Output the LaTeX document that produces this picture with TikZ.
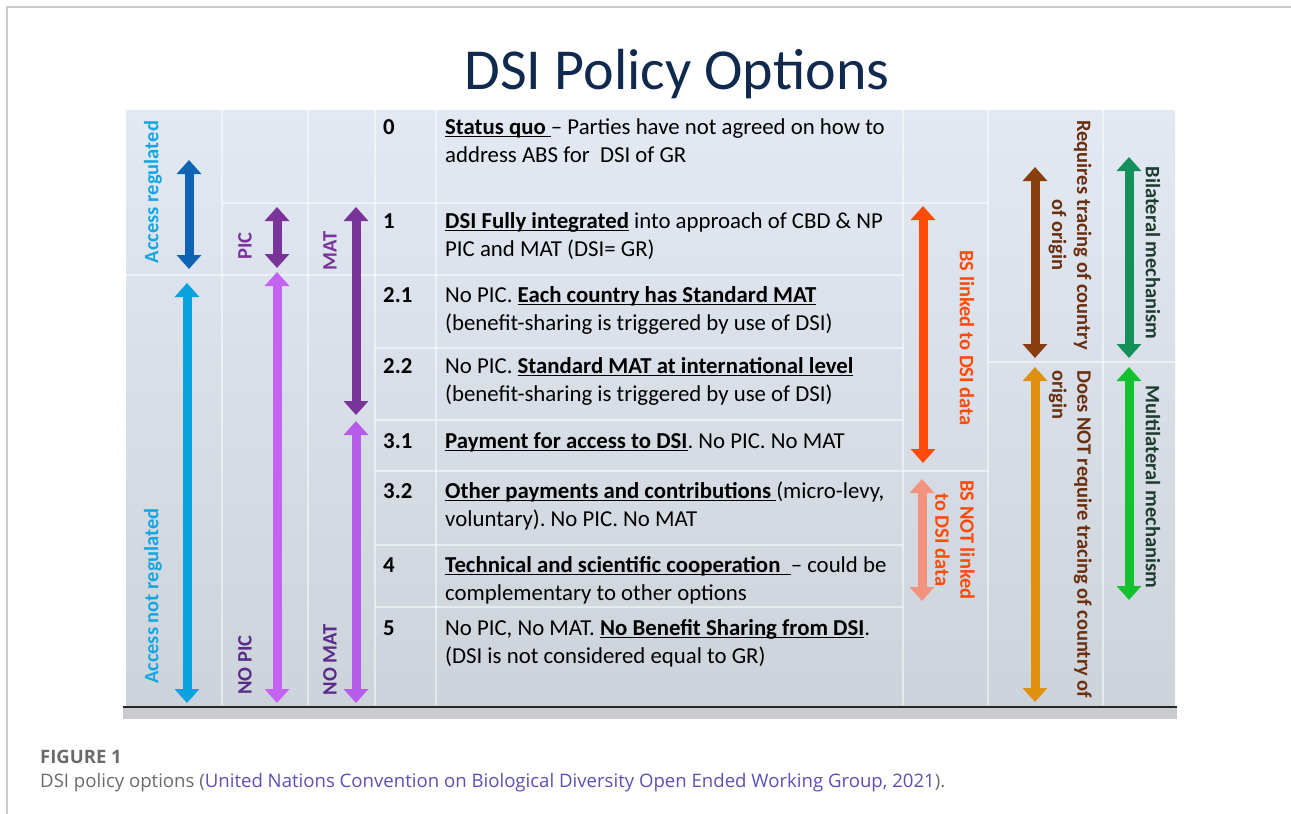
\documentclass[tikz,border=0pt]{standalone}
\usepackage{fontspec}
\setmainfont{Carlito}
\newfontfamily\capfont{Open Sans}
\usetikzlibrary{arrows.meta}
\frenchspacing

\definecolor{titleblue}{HTML}{0F2A4E}
\definecolor{tabletop}{HTML}{E2E9F3}
\definecolor{tablebottom}{HTML}{CDD3DA}
\definecolor{slidegray}{HTML}{C9CBCE}
\definecolor{framegray}{HTML}{CCCCCC}
\definecolor{accdark}{HTML}{0F63B3}
\definecolor{acclight}{HTML}{0BA0DF}
\definecolor{acclabel}{HTML}{14A6E2}
\definecolor{picdark}{HTML}{7A3398}
\definecolor{piclight}{HTML}{C462F2}
\definecolor{matlight}{HTML}{B75CEA}
\definecolor{nopictext}{HTML}{5A2B88}
\definecolor{bsred}{HTML}{FF4A0A}
\definecolor{bspink}{HTML}{F3927F}
\definecolor{tracebrown}{HTML}{8A3D0D}
\definecolor{traceamber}{HTML}{DE900E}
\definecolor{tracetext}{HTML}{6B2E0E}
\definecolor{greendark}{HTML}{14905A}
\definecolor{greenlight}{HTML}{14C230}
\definecolor{mechtext}{HTML}{1D3B2E}
\definecolor{captext}{HTML}{6A6A6A}
\definecolor{linkblue}{HTML}{5B50B4}

% bold text with a flat underline just under the baseline
\newcommand{\ulbf}[1]{\textbf{\setbox0\hbox{#1}\rlap{\rule[-3pt]{\wd0}{1.3pt}}\box0}}

\begin{document}
\begin{tikzpicture}[x=1pt, y=-1pt]

\tikzset{optline/.style={anchor=base west, inner sep=0pt, align=left, font=\fontsize{22.8}{28}\selectfont}}
\tikzset{optnum/.style={optline, font=\fontsize{22.8}{28}\selectfont\bfseries}}
\tikzset{rangearrow/.style={line width=9pt, {Triangle[width=24pt,length=14pt]}-{Triangle[width=24pt,length=14pt]}}}
\tikzset{sidelabel/.style={inner sep=0pt, align=center, font=\fontsize{20.5}{25}\selectfont\bfseries}}
\tikzset{gridline/.style={white, opacity=0.5, line width=1.5pt}}

\useasboundingbox (0,0) rectangle (1291,814);

% card frame
\draw[framegray, line width=1.2pt] (7,814) -- (7,7) -- (1291,7);

% slide and table background
\fill[white] (123,38) rectangle (1177,110);
\shade[top color=tabletop, bottom color=tablebottom] (126,110) rectangle (1175,707);
\fill[slidegray] (123,707) rectangle (1177,719);
\draw[black!85, line width=2.5pt] (123,707) -- (1177,707);

% figure title
\node[font=\fontsize{58}{70}\selectfont, text=titleblue, anchor=base] (title) at (677,89) {DSI Policy Options};

% table grid
\draw[gridline] (222,110) -- (222,705);
\draw[gridline] (308,110) -- (308,705);
\draw[gridline] (375,110) -- (375,705);
\draw[gridline] (436,110) -- (436,705);
\draw[gridline] (903,110) -- (903,705);
\draw[gridline] (988,110) -- (988,705);
\draw[gridline] (1103,110) -- (1103,705);
\draw[gridline] (222,203) -- (988,203);
\draw[gridline] (126,275) -- (903,275);
\draw[gridline] (375,348) -- (903,348);
\draw[gridline] (375,420) -- (903,420);
\draw[gridline] (375,471) -- (988,471);
\draw[gridline] (375,545) -- (903,545);
\draw[gridline] (375,607) -- (903,607);
\draw[gridline] (988,362) -- (1175,362);

% option numbers (first line baseline)
\node[optnum] (n0) at (383,134) {0};
\node[optnum] (n1) at (383,228) {1};
\node[optnum] (n21) at (383,302) {2.1};
\node[optnum] (n22) at (383,373) {2.2};
\node[optnum] (n31) at (383,448) {3.1};
\node[optnum] (n32) at (383,498) {3.2};
\node[optnum] (n4) at (383,572) {4};
\node[optnum] (n5) at (383,635) {5};

% option texts (base = last line baseline)
\node[optline] (t0) at (445,162) {\ulbf{Status quo }– Parties have not agreed on how to\\address ABS for~ DSI of GR};
\node[optline] (t1) at (445,256) {\ulbf{DSI Fully integrated} into approach of CBD \& NP\\PIC and MAT (DSI= GR)};
\node[optline] (t21) at (445,330) {No PIC. \ulbf{Each country has Standard MAT}\\(benefit-sharing is triggered by use of DSI)};
\node[optline] (t22) at (445,401) {No PIC. \ulbf{Standard MAT at international level}\\(benefit-sharing is triggered by use of DSI)};
\node[optline] (t31) at (445,448) {\ulbf{Payment for access to DSI}. No PIC. No MAT};
\node[optline] (t32) at (445,526) {\ulbf{Other payments and contributions }(micro-levy,\\voluntary). No PIC. No MAT};
\node[optline] (t4) at (445,600) {\ulbf{Technical and scientific cooperation~ }– could be\\complementary to other options};
\node[optline] (t5) at (445,663) {No PIC, No MAT. \ulbf{No Benefit Sharing from DSI}.\\(DSI is not considered equal to GR)};

% left side: access, PIC, MAT
\coordinate (accT) at (189,160);  \coordinate (accB) at (189,269);
\coordinate (naccT) at (187,283); \coordinate (naccB) at (187,703);
\coordinate (picT) at (277,207);  \coordinate (picB) at (277,268);
\coordinate (npicT) at (277,272); \coordinate (npicB) at (277,703);
\coordinate (matT) at (356,207);  \coordinate (matB) at (356,415);
\coordinate (nmatT) at (356,421); \coordinate (nmatB) at (356,703);
\draw[rangearrow, accdark] (accT) -- (accB);
\draw[rangearrow, acclight] (naccT) -- (naccB);
\draw[rangearrow, picdark] (picT) -- (picB);
\draw[rangearrow, piclight] (npicT) -- (npicB);
\draw[rangearrow, picdark] (matT) -- (matB);
\draw[rangearrow, matlight] (nmatT) -- (nmatB);

\node[sidelabel, text=acclabel, rotate=90] (accreg) at (153,192) {Access regulated};
\node[sidelabel, text=acclabel, rotate=90] (accnot) at (153,596) {Access not regulated};
\node[sidelabel, text=picdark, rotate=90] (pic) at (245,246) {PIC};
\node[sidelabel, text=nopictext, rotate=90] (nopic) at (245,665) {NO PIC};
\node[sidelabel, text=picdark, rotate=90] (mat) at (330,251) {MAT};
\node[sidelabel, text=nopictext, rotate=90] (nomat) at (330,660) {NO MAT};

% right side: benefit sharing, tracing, mechanism
\coordinate (bsT) at (923,206);   \coordinate (bsB) at (923,463);
\coordinate (nbsT) at (922,479);  \coordinate (nbsB) at (922,601);
\coordinate (trT) at (1035,167);  \coordinate (trB) at (1035,358);
\coordinate (ntrT) at (1035,367); \coordinate (ntrB) at (1035,702);
\coordinate (biT) at (1129,157);  \coordinate (biB) at (1129,358);
\coordinate (muT) at (1129,367);  \coordinate (muB) at (1129,600);
\draw[rangearrow, bsred] (bsT) -- (bsB);
\draw[rangearrow, bspink] (nbsT) -- (nbsB);
\draw[rangearrow, tracebrown] (trT) -- (trB);
\draw[rangearrow, traceamber] (ntrT) -- (ntrB);
\draw[rangearrow, greendark] (biT) -- (biB);
\draw[rangearrow, greenlight] (muT) -- (muB);

\node[sidelabel, text=bsred, rotate=-90] (bslinked) at (967,338) {BS linked to DSI data};
\node[sidelabel, text=bsred, rotate=-90] (bsnot) at (955,540) {BS NOT linked\\to DSI data};
\node[sidelabel, text=tracetext, rotate=-90] (trace) at (1070,235) {Requires tracing of country\\of origin};
\node[sidelabel, text=tracetext, rotate=-90, anchor=north west, align=left] (notrace) at (1092,370) {Does NOT require tracing of country of\\origin};
\node[sidelabel, text=mechtext, rotate=-90] (bilat) at (1153,253) {Bilateral mechanism};
\node[sidelabel, text=mechtext, rotate=-90] (multilat) at (1153,487) {Multilateral mechanism};

% caption
\node[anchor=base west, inner sep=0pt, font=\capfont\fontsize{18.5}{22}\selectfont\bfseries, text=captext] (figno) at (40,763) {FIGURE 1};
\node[anchor=base west, inner sep=0pt, font=\capfont\fontsize{18.6}{22}\selectfont, text=captext] (figcap) at (40,787) {DSI policy options (\textcolor{linkblue}{United Nations Convention on Biological Diversity Open Ended Working Group, 2021}).};

\end{tikzpicture}
\end{document}
